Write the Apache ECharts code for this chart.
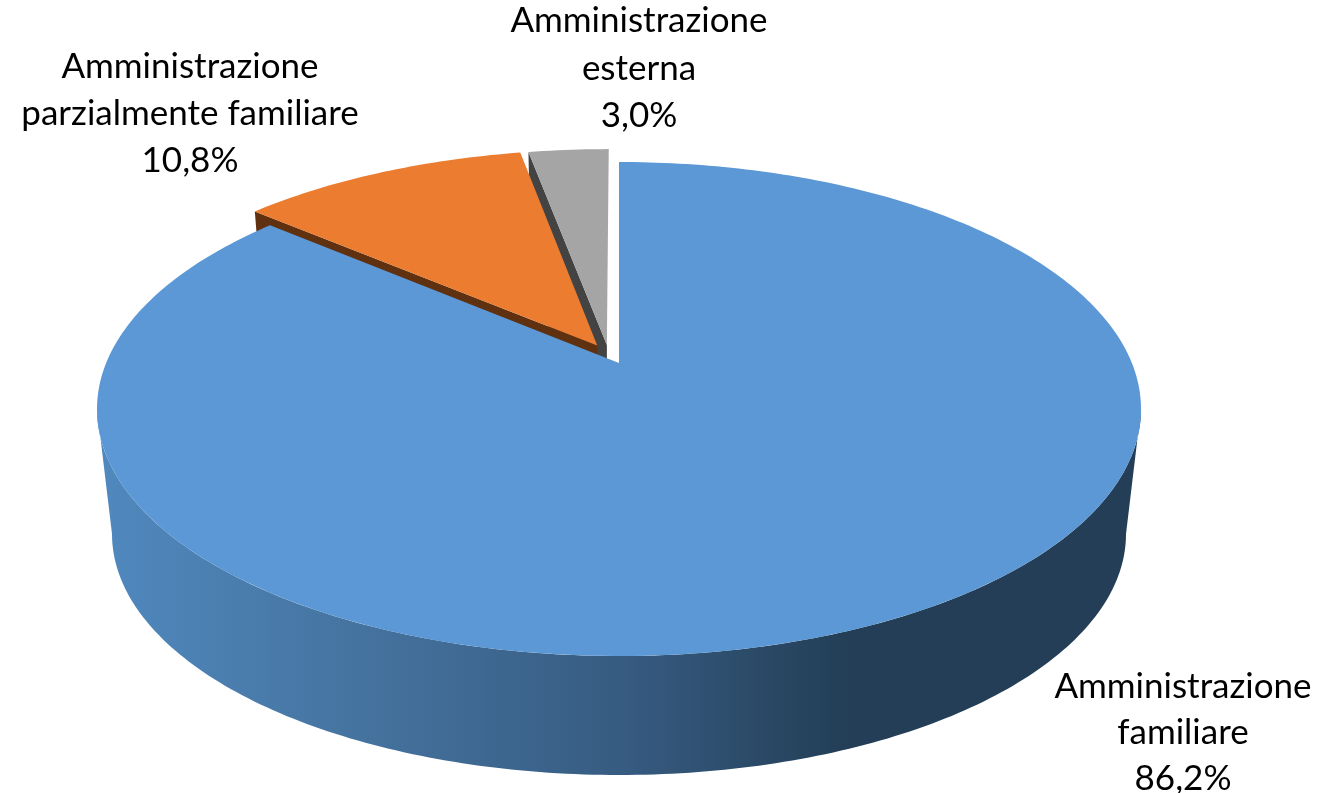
<!DOCTYPE html>
<html>
<head>
<meta charset="utf-8">
<style>html,body{margin:0;padding:0;background:#fff}#c{width:1319px;height:793px}</style>
<script src="https://cdn.jsdelivr.net/npm/echarts@6/dist/echarts.min.js"></script>
</head>
<body>
<div id="c"></div>
<script>
// Data
const categories = [["Amministrazione", "familiare"], ["Amministrazione", "parzialmente familiare"], ["Amministrazione", "esterna"]];
const values = [86.2, 10.8, 3.0];
const valueLabels = ["86,2%", "10,8%", "3,0%"];

// Look
const topColors = ["#5b98d5", "#eb7c30", "#a5a5a5"];
const faceColors = [null, "#5f3110", "#434343"];
const drawOrder = [30, 20, 10];
const explode = [[0, 0], [-0.043, -0.074], [-0.024, -0.077]];
const labelPos = [[1183, 687], [190, 67], [639, 21]];
const lineHeights = [46, 47, 47.5];
const FONT = '35px Lato, "Open Sans", sans-serif';

// Perspective disc geometry
const topDisc = {cx: 619, cy: 409, rx: 522, ry: 247};
const baseDisc = {cx: 619, cy: 534, rx: 507, ry: 241};
const apexY = 363;
const far = topDisc.cy - topDisc.ry - apexY, near = topDisc.cy + topDisc.ry - apexY;
const persp = (-far - near) / (near - far);
const scaleY = near * (1 + persp);
const scaleX = topDisc.rx * Math.sqrt(1 - persp * persp);

function project(x, y) {
  const w = 1 + persp * y;
  return [topDisc.cx + scaleX * x / w, apexY + scaleY * y / w];
}
function down(p) {
  return [baseDisc.cx + (p[0] - topDisc.cx) * baseDisc.rx / topDisc.rx,
          baseDisc.cy + (p[1] - topDisc.cy) * baseDisc.ry / topDisc.ry];
}
function onDisc(deg, ex) {
  const r = deg * Math.PI / 180;
  return project(Math.sin(r) + ex[0], -Math.cos(r) + ex[1]);
}
function ellipseArc(e, from, to) {
  const pts = [];
  const n = 180;
  for (let i = 0; i <= n; i++) {
    const r = (from + (to - from) * i / n) * Math.PI / 180;
    pts.push([e.cx + e.rx * Math.cos(r), e.cy + e.ry * Math.sin(r)]);
  }
  return pts;
}
const total = values.reduce((s, v) => s + v, 0);

const chart = echarts.init(document.getElementById('c'), null, {renderer: 'canvas'});
chart.setOption({
  animation: false,
  backgroundColor: '#fff',
  series: [{
    type: 'custom',
    coordinateSystem: 'none',
    silent: true,
    data: values,
    renderItem(params, api) {
      const i = params.dataIndex;
      let start = 0;
      for (let k = 0; k < i; k++) start += values[k];
      const a0 = start / total * 360;
      const a1 = (start + api.value(0)) / total * 360;
      const ex = explode[i];
      const z = drawOrder[i];
      const apex = project(ex[0], ex[1]);
      const surface = [apex];
      const steps = Math.max(4, Math.ceil(a1 - a0));
      for (let s = 0; s <= steps; s++) surface.push(onDisc(a0 + (a1 - a0) * s / steps, ex));
      const children = [];
      if (i === 0) {
        const side = ellipseArc(topDisc, 0, 180).concat(ellipseArc(baseDisc, 180, 0));
        children.push({
          type: 'polygon', z2: z - 1,
          shape: {points: side},
          style: {fill: new echarts.graphic.LinearGradient(0, 0, 1, 0, [
            {offset: 0, color: '#5089bf'},
            {offset: 0.25, color: '#45739f'},
            {offset: 0.5, color: '#375c82'},
            {offset: 0.72, color: '#233e56'},
            {offset: 1, color: '#233e56'}
          ])}
        });
      }
      if (faceColors[i]) {
        const corner = onDisc(a0, ex);
        children.push({
          type: 'polygon', z2: z - 1,
          shape: {points: [apex, corner, down(corner), down(apex)]},
          style: {fill: faceColors[i]}
        });
      }
      children.push({
        type: 'polygon', z2: z,
        shape: {points: surface},
        style: {fill: topColors[i]}
      });
      const lines = categories[i].concat([valueLabels[i]]);
      lines.forEach((t, n) => children.push({
        type: 'text', z2: 50,
        style: {
          text: t, x: labelPos[i][0], y: labelPos[i][1] + n * lineHeights[i],
          align: 'center', verticalAlign: 'middle', font: FONT, fill: '#000'
        }
      }));
      return {type: 'group', children};
    }
  }]
});
</script>
</body>
</html>
